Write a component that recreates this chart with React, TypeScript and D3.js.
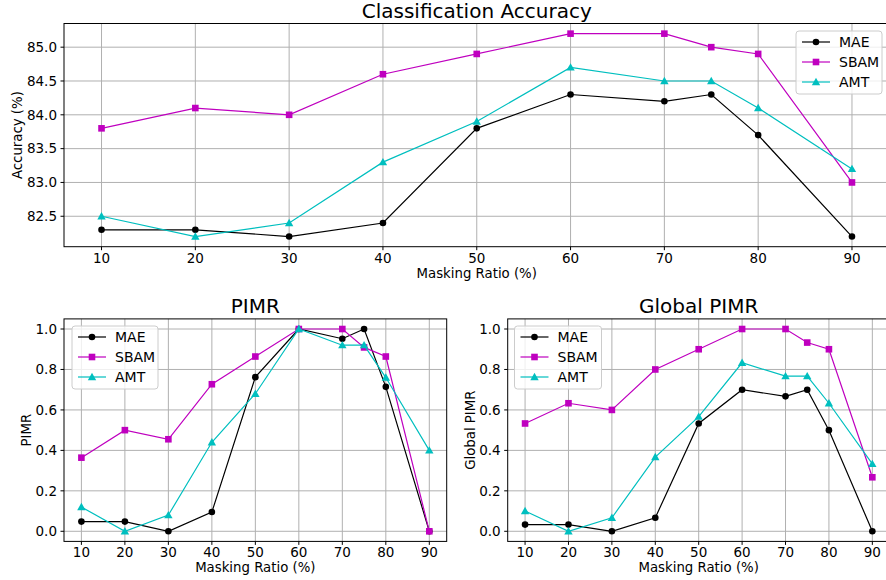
import React from "react";
import * as d3 from "d3";

const ratios = [10, 20, 30, 40, 50, 60, 70, 75, 80, 90];
const xTicks = [10, 20, 30, 40, 50, 60, 70, 80, 90];

const accMAE = [82.3, 82.3, 82.2, 82.4, 83.8, 84.3, 84.2, 84.3, 83.7, 82.2];
const accSBAM = [83.8, 84.1, 84.0, 84.6, 84.9, 85.2, 85.2, 85.0, 84.9, 83.0];
const accAMT = [82.5, 82.2, 82.4, 83.3, 83.9, 84.7, 84.5, 84.5, 84.1, 83.2];
const accTicks = [82.5, 83.0, 83.5, 84.0, 84.5, 85.0];

const pimrMAE = [0.048, 0.048, 0.0, 0.095, 0.762, 1.0, 0.952, 1.0, 0.714, 0.0];
const pimrSBAM = [0.364, 0.5, 0.455, 0.727, 0.864, 1.0, 1.0, 0.909, 0.864, 0.0];
const pimrAMT = [0.12, 0.0, 0.08, 0.44, 0.68, 1.0, 0.92, 0.92, 0.76, 0.4];

const gMAE = [0.033, 0.033, 0.0, 0.067, 0.533, 0.7, 0.667, 0.7, 0.5, 0.0];
const gSBAM = [0.533, 0.633, 0.6, 0.8, 0.9, 1.0, 1.0, 0.933, 0.9, 0.267];
const gAMT = [0.1, 0.0, 0.067, 0.367, 0.567, 0.833, 0.767, 0.767, 0.633, 0.333];
const pimrTicks = [0.0, 0.2, 0.4, 0.6, 0.8, 1.0];

const seriesNames = ["MAE", "SBAM", "AMT"];
const seriesColors = ["#000000", "#bf00bf", "#00bfbf"];
const seriesMarkers = ["circle", "square", "triangle"];

const FONT = "DejaVu Sans, sans-serif";

function Marker({ kind, x, y, color }: { kind: string; x: number; y: number; color: string }) {
  if (kind === "circle") return <circle cx={x} cy={y} r={3.3} fill={color} />;
  if (kind === "square") return <rect x={x - 3.3} y={y - 3.3} width={6.6} height={6.6} fill={color} />;
  const s = 4.2;
  return (
    <path
      d={`M${x},${y - s}L${x + s},${y + s * 0.75}L${x - s},${y + s * 0.75}Z`}
      fill={color}
    />
  );
}

type PanelProps = {
  left: number;
  right: number;
  top: number;
  bottom: number;
  yDomain: [number, number];
  yTicks: number[];
  yFmt: (v: number) => string;
  series: number[][];
  title: string;
  yLabel: string;
  yLabelX: number;
  legend: { x: number; y: number; w: number };
};

function Panel(p: PanelProps) {
  const x = d3.scaleLinear().domain([6, 94]).range([p.left, p.right]);
  const y = d3.scaleLinear().domain(p.yDomain).range([p.bottom, p.top]);
  const clipId = `clip-${p.title.replace(/\s/g, "")}`;
  return (
    <g>
      <defs>
        <clipPath id={clipId}>
          <rect x={p.left} y={p.top} width={p.right - p.left} height={p.bottom - p.top} />
        </clipPath>
      </defs>
      {xTicks.map((t) => (
        <line key={"gx" + t} x1={x(t)} x2={x(t)} y1={p.top} y2={p.bottom} stroke="#b0b0b0" strokeWidth={1} />
      ))}
      {p.yTicks.map((t) => (
        <line key={"gy" + t} x1={p.left} x2={p.right} y1={y(t)} y2={y(t)} stroke="#b0b0b0" strokeWidth={1} />
      ))}
      <g clipPath={`url(#${clipId})`}>
        {p.series.map((vals, i) => {
          const line = d3
            .line<number>()
            .x((_, j) => x(ratios[j]))
            .y((v) => y(v));
          return (
            <g key={"s" + i}>
              <path d={line(vals) || ""} fill="none" stroke={seriesColors[i]} strokeWidth={1.2} />
              {vals.map((v, j) => (
                <Marker key={j} kind={seriesMarkers[i]} x={x(ratios[j])} y={y(v)} color={seriesColors[i]} />
              ))}
            </g>
          );
        })}
      </g>
      <rect
        x={p.left}
        y={p.top}
        width={p.right - p.left}
        height={p.bottom - p.top}
        fill="none"
        stroke="#000"
        strokeWidth={1}
      />
      {xTicks.map((t) => (
        <g key={"tx" + t}>
          <line x1={x(t)} x2={x(t)} y1={p.bottom} y2={p.bottom + 3.5} stroke="#000" strokeWidth={1} />
          <text x={x(t)} y={p.bottom + 16} textAnchor="middle" fontFamily={FONT} fontSize={13.5} fill="#000">
            {t}
          </text>
        </g>
      ))}
      {p.yTicks.map((t) => (
        <g key={"ty" + t}>
          <line x1={p.left - 3.5} x2={p.left} y1={y(t)} y2={y(t)} stroke="#000" strokeWidth={1} />
          <text
            x={p.left - 7}
            y={y(t)}
            dy="0.36em"
            textAnchor="end"
            fontFamily={FONT}
            fontSize={13.5}
            fill="#000"
          >
            {p.yFmt(t)}
          </text>
        </g>
      ))}
      <text
        x={(p.left + p.right) / 2}
        y={p.top - 6}
        textAnchor="middle"
        fontFamily={FONT}
        fontSize={20}
        fill="#000"
      >
        {p.title}
      </text>
      <text
        x={(p.left + p.right) / 2}
        y={p.bottom + 31}
        textAnchor="middle"
        fontFamily={FONT}
        fontSize={13.3}
        fill="#000"
      >
        Masking Ratio (%)
      </text>
      <text
        transform={`translate(${p.yLabelX},${(p.top + p.bottom) / 2}) rotate(-90)`}
        textAnchor="middle"
        fontFamily={FONT}
        fontSize={13.3}
        fill="#000"
      >
        {p.yLabel}
      </text>
      <g>
        <rect
          x={p.legend.x}
          y={p.legend.y}
          width={p.legend.w}
          height={63}
          rx={3}
          fill="#fff"
          fillOpacity={0.8}
          stroke="#cccccc"
          strokeWidth={1}
        />
        {seriesNames.map((n, i) => {
          const ly = p.legend.y + 11 + i * 20;
          const lx = p.legend.x + 6;
          return (
            <g key={n}>
              <line x1={lx} x2={lx + 28} y1={ly} y2={ly} stroke={seriesColors[i]} strokeWidth={1.2} />
              <Marker kind={seriesMarkers[i]} x={lx + 14} y={ly} color={seriesColors[i]} />
              <text x={lx + 37} y={ly} dy="0.36em" fontFamily={FONT} fontSize={14} fill="#000">
                {n}
              </text>
            </g>
          );
        })}
      </g>
    </g>
  );
}

export default function App() {
  return (
    <svg
      width={886}
      height={580}
      style={{ position: "absolute", left: 0, top: 0, background: "#fff" }}
    >
      <rect width={886} height={580} fill="#fff" />
      <Panel
        left={64}
        right={889.5}
        top={23.5}
        bottom={246.7}
        yDomain={[82.05, 85.35]}
        yTicks={accTicks}
        yFmt={(v) => v.toFixed(1)}
        series={[accMAE, accSBAM, accAMT]}
        title="Classification Accuracy"
        yLabel="Accuracy (%)"
        yLabelX={22}
        legend={{ x: 796, y: 31, w: 86 }}
      />
      <Panel
        left={64}
        right={446.7}
        top={318.9}
        bottom={541.4}
        yDomain={[-0.05, 1.05]}
        yTicks={pimrTicks}
        yFmt={(v) => v.toFixed(1)}
        series={[pimrMAE, pimrSBAM, pimrAMT]}
        title="PIMR"
        yLabel="PIMR"
        yLabelX={31}
        legend={{ x: 72, y: 326, w: 86 }}
      />
      <Panel
        left={507.7}
        right={889.7}
        top={318.9}
        bottom={541.4}
        yDomain={[-0.05, 1.05]}
        yTicks={pimrTicks}
        yFmt={(v) => v.toFixed(1)}
        series={[gMAE, gSBAM, gAMT]}
        title="Global PIMR"
        yLabel="Global PIMR"
        yLabelX={475}
        legend={{ x: 514.5, y: 326, w: 87 }}
      />
    </svg>
  );
}
